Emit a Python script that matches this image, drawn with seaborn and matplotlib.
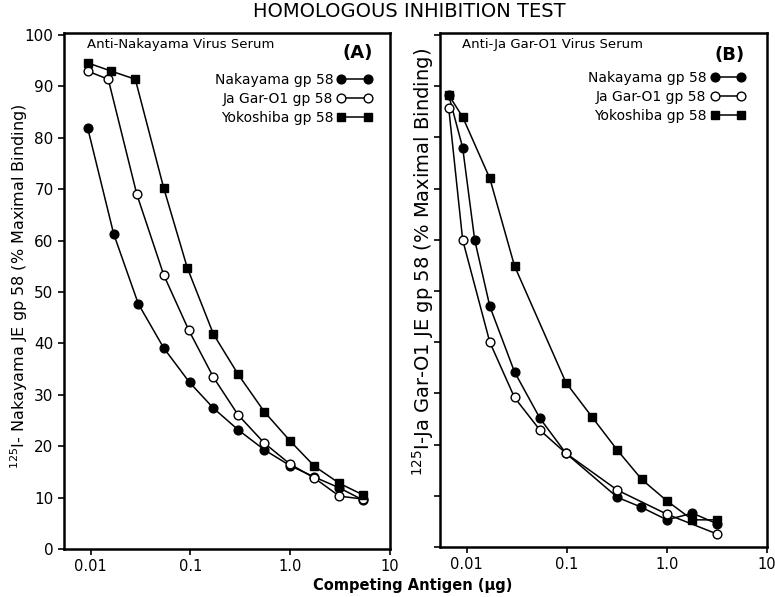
import pandas as pd
import matplotlib
matplotlib.use("Agg")
import matplotlib.pyplot as plt
import seaborn as sns

# Panel A: anti-Nakayama serum
a_naka_x = [0.0093, 0.017, 0.030, 0.054, 0.098, 0.17, 0.30, 0.55, 1.0, 1.75, 3.1, 5.4]
a_naka_y = [82, 61.3, 47.7, 39.1, 32.4, 27.4, 23.2, 19.3, 16.2, 14.0, 11.9, 9.5]
a_jagar_x = [0.0093, 0.015, 0.029, 0.054, 0.096, 0.17, 0.30, 0.55, 1.0, 1.75, 3.1, 5.4]
a_jagar_y = [93, 91.4, 69, 53.3, 42.6, 33.4, 26.1, 20.6, 16.5, 13.8, 10.3, 9.7]
a_yoko_x = [0.0093, 0.016, 0.028, 0.054, 0.093, 0.17, 0.30, 0.55, 1.0, 1.75, 3.1, 5.4]
a_yoko_y = [94.6, 93, 91.4, 70.2, 54.7, 41.8, 34, 26.7, 21, 16.1, 12.8, 10.5]

# Panel B: anti-Ja Gar-O1 serum
b_naka_x = [0.0066, 0.0091, 0.012, 0.017, 0.030, 0.054, 0.098, 0.32, 0.55, 1.0, 1.8, 3.2]
b_naka_y = [88.3, 78, 60, 47, 34.2, 25.1, 18.3, 9.7, 7.8, 5.3, 6.6, 4.5]
b_jagar_x = [0.0066, 0.0091, 0.017, 0.030, 0.054, 0.098, 0.32, 1.0, 3.2]
b_jagar_y = [85.8, 60, 40, 29.2, 22.8, 18.3, 11.1, 6.4, 2.5]
b_yoko_x = [0.0066, 0.0091, 0.017, 0.030, 0.098, 0.18, 0.32, 0.56, 1.0, 1.8, 3.2]
b_yoko_y = [88.3, 84, 72, 54.9, 32.1, 25.3, 18.9, 13.2, 9.0, 5.3, 5.3]

x_ticks = [0.01, 0.1, 1.0, 10]
x_tick_labels = ["0.01", "0.1", "1.0", "10"]
y_ticks = [0, 10, 20, 30, 40, 50, 60, 70, 80, 90, 100]

sns.set_style("ticks")
plt.rcParams['font.family'] = ['DejaVu Sans']
plt.rcParams.update({"text.color": "black", "axes.labelcolor": "black",
                     "xtick.color": "black", "ytick.color": "black",
                     "axes.edgecolor": "black"})

fig = plt.figure(figsize=(7.75, 5.97), dpi=100)
ax1 = fig.add_axes([0.0826, 0.0804, 0.4206, 0.8643])
ax2 = fig.add_axes([0.5677, 0.0838, 0.4220, 0.8609])


def draw(ax, series):
    for x, y, lab, face, mk in series:
        df = pd.DataFrame({"x": x, "y": y})
        sns.lineplot(data=df, x="x", y="y", ax=ax, color="black", lw=1.1,
                     marker=mk, markersize=6.3 if mk == "o" else 5.8,
                     markerfacecolor=face, markeredgecolor="black",
                     markeredgewidth=1.0, label=lab)
    ax.set_xscale("log")
    ax.set_xlim(0.0054, 10)
    ax.set_ylim(0, 100.4)
    ax.set_xticks(x_ticks)
    ax.set_xticklabels(x_tick_labels, fontsize=10.5)
    ax.minorticks_off()
    ax.set_yticks(y_ticks)
    ax.set_xlabel("")
    ax.set_ylabel("")
    for s in ax.spines.values():
        s.set_linewidth(1.8)
    ax.tick_params(direction="out", length=4, width=1.2)


draw(ax1, [
    (a_naka_x, a_naka_y, "Nakayama gp 58", "black", "o"),
    (a_jagar_x, a_jagar_y, "Ja Gar-O1 gp 58", "white", "o"),
    (a_yoko_x, a_yoko_y, "Yokoshiba gp 58", "black", "s"),
])
draw(ax2, [
    (b_naka_x, b_naka_y, "Nakayama gp 58", "black", "o"),
    (b_jagar_x, b_jagar_y, "Ja Gar-O1 gp 58", "white", "o"),
    (b_yoko_x, b_yoko_y, "Yokoshiba gp 58", "black", "s"),
])

ax1.set_yticklabels([str(v) for v in y_ticks], fontsize=11)
ax2.set_yticklabels([])

for ax, anchor in [(ax1, (0.945, 0.922)), (ax2, (0.933, 0.926))]:
    ax.legend(loc="upper right", bbox_to_anchor=anchor, frameon=False,
              markerfirst=False, numpoints=2, handlelength=2.5, handletextpad=0.3,
              labelspacing=0.35, borderpad=0, borderaxespad=0, fontsize=10)

ax1.text(0.07, 0.977, "Anti-Nakayama Virus Serum", transform=ax1.transAxes,
         ha="left", va="center", fontsize=9.5)
ax1.text(0.948, 0.961, "(A)", transform=ax1.transAxes, ha="right", va="center",
         fontsize=13, fontweight="bold")
ax2.text(0.067, 0.977, "Anti-Ja Gar-O1 Virus Serum", transform=ax2.transAxes,
         ha="left", va="center", fontsize=9.5)
ax2.text(0.933, 0.957, "(B)", transform=ax2.transAxes, ha="right", va="center",
         fontsize=13, fontweight="bold")

fig.text(0.0245, 0.521, r"$^{125}$I- Nakayama JE gp 58 (% Maximal Binding)",
         rotation=90, ha="center", va="center", fontsize=11.5)
fig.text(0.546, 0.561, r"$^{125}$I-Ja Gar-O1 JE gp 58 (% Maximal Binding)",
         rotation=90, ha="center", va="center", fontsize=14)

fig.text(0.528, 0.98, "HOMOLOGOUS INHIBITION TEST", ha="center", va="center",
         fontsize=14)
fig.text(0.532, 0.02, "Competing Antigen (\u00b5g)", ha="center", va="center",
         fontsize=10.5, fontweight="bold")

fig.savefig("out.png", dpi=100)
